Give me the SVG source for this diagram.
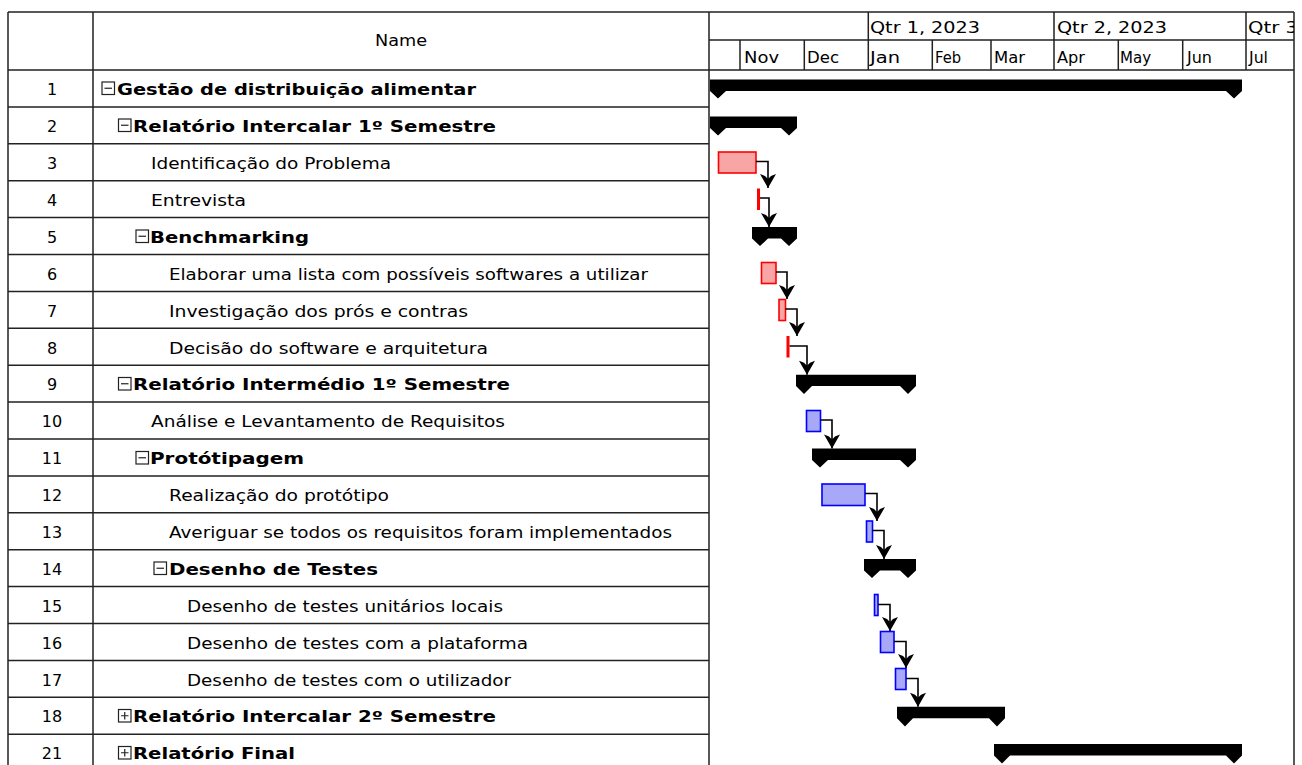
<svg xmlns="http://www.w3.org/2000/svg" width="1302" height="765" viewBox="0 0 1302 765">
<defs>
<style>
.t{font-family:"DejaVu Sans",Verdana,sans-serif;font-size:16px;fill:#000}
.b{font-weight:bold}
.n{text-anchor:middle}
.h{font-family:"DejaVu Sans",Verdana,sans-serif;font-size:16px;fill:#000}
.grid{stroke:#222;stroke-width:1.5;fill:none}
.box{fill:#fff;stroke:#222;stroke-width:1.2}
.sum{fill:#000}
.red{fill:#f7a5a5;stroke:#ff0000;stroke-width:1.6}
.blue{fill:#a8a8f8;stroke:#0000ff;stroke-width:1.6}
.con{stroke:#000;stroke-width:1.6;fill:none;marker-end:url(#ah)}
</style>
<marker id="ah" markerUnits="userSpaceOnUse" markerWidth="20" markerHeight="20" refX="0" refY="0" viewBox="-16 -10 18 20" orient="auto" overflow="visible">
<path d="M0,0 L-14,-8 L-12,-3 L-9,0 L-12,3 L-14,8 Z" fill="#000"/>
</marker>
<clipPath id="hc"><rect x="709" y="12" width="585" height="58"/></clipPath>
</defs>
<rect x="0" y="0" width="1302" height="765" fill="#fff"/>

<g id="grid">
<path class="grid" d="M8,12 H1294 M8,12 V765 M93,12 V765 M709,12 V765 M1294,12 V765 M8,70 H1294 M709,40 H1294"/>
<path class="grid" d="M8,106.9 H709 M8,143.8 H709 M8,180.7 H709 M8,217.6 H709 M8,254.5 H709 M8,291.4 H709 M8,328.3 H709 M8,365.2 H709 M8,402.1 H709 M8,439 H709 M8,475.9 H709 M8,512.8 H709 M8,549.7 H709 M8,586.6 H709 M8,623.5 H709 M8,660.4 H709 M8,697.3 H709 M8,734.2 H709"/>
<path class="grid" d="M868.3,12 V70 M1054,12 V70 M1246,12 V70 M740,40 V70 M804.3,40 V70 M932.3,40 V70 M991,40 V70 M1118.3,40 V70 M1182.7,40 V70"/>
</g>

<g id="header">
<text class="t n" x="401" y="46" textLength="52" lengthAdjust="spacingAndGlyphs">Name</text>
<g clip-path="url(#hc)">
<text class="h" x="870" y="33" textLength="110" lengthAdjust="spacingAndGlyphs">Qtr 1, 2023</text>
<text class="h" x="1057" y="33" textLength="110" lengthAdjust="spacingAndGlyphs">Qtr 2, 2023</text>
<text class="h" x="1248" y="33" textLength="50" lengthAdjust="spacingAndGlyphs">Qtr 3</text>
<text class="h" x="744" y="63" textLength="35" lengthAdjust="spacingAndGlyphs">Nov</text>
<text class="h" x="807" y="63" textLength="32" lengthAdjust="spacingAndGlyphs">Dec</text>
<text class="h" x="870" y="63" textLength="30" lengthAdjust="spacingAndGlyphs">Jan</text>
<text class="h" x="935" y="63" textLength="26" lengthAdjust="spacingAndGlyphs">Feb</text>
<text class="h" x="994" y="63" textLength="31" lengthAdjust="spacingAndGlyphs">Mar</text>
<text class="h" x="1057" y="63" textLength="28" lengthAdjust="spacingAndGlyphs">Apr</text>
<text class="h" x="1120" y="63" textLength="31" lengthAdjust="spacingAndGlyphs">May</text>
<text class="h" x="1187" y="63" textLength="25" lengthAdjust="spacingAndGlyphs">Jun</text>
<text class="h" x="1249" y="63" textLength="19" lengthAdjust="spacingAndGlyphs">Jul</text>
</g>
</g>

<g id="row1"><text class="t n" x="52" y="94.5">1</text><rect class="box" x="102" y="82" width="12.5" height="12.5"/><path d="M104.5,88.25 H112" stroke="#222" stroke-width="1.2"/><text class="t b" x="117" y="94.5" textLength="359" lengthAdjust="spacingAndGlyphs">Gestão de distribuição alimentar</text>
<path class="sum" d="M710,79.5 H1242 V91 L1234,98.5 L1226,91 H726 L718,98.5 L710,91 Z"/></g>

<g id="row2"><text class="t n" x="52" y="131.5">2</text><rect class="box" x="118.5" y="119" width="12.5" height="12.5"/><path d="M121,125.25 H128.5" stroke="#222" stroke-width="1.2"/><text class="t b" x="133" y="131.5" textLength="363" lengthAdjust="spacingAndGlyphs">Relatório Intercalar 1º Semestre</text>
<path class="sum" d="M710,116.4 H797 V128 L789,135.4 L781,128 H726 L718,135.4 L710,128 Z"/></g>

<g id="row3"><text class="t n" x="52" y="168.5">3</text><text class="t" x="151" y="168.5" textLength="240" lengthAdjust="spacingAndGlyphs">Identificação do Problema</text>
<rect class="red" x="718.5" y="152" width="37.5" height="21"/></g>

<g id="row4"><text class="t n" x="52" y="205.5">4</text><text class="t" x="151" y="205.5" textLength="95" lengthAdjust="spacingAndGlyphs">Entrevista</text>
<rect x="757" y="188.5" width="3" height="21.5" fill="#ff0000"/></g>

<g id="row5"><text class="t n" x="52" y="242.5">5</text><rect class="box" x="136" y="230" width="12.5" height="12.5"/><path d="M138.5,236.25 H146" stroke="#222" stroke-width="1.2"/><text class="t b" x="150" y="242.5" textLength="159" lengthAdjust="spacingAndGlyphs">Benchmarking</text>
<path class="sum" d="M752,227 H797 V238.5 L789,246 L781,238.5 H768 L760,246 L752,238.5 Z"/></g>

<g id="row6"><text class="t n" x="52" y="279.5">6</text><text class="t" x="169" y="279.5" textLength="479" lengthAdjust="spacingAndGlyphs">Elaborar uma lista com possíveis softwares a utilizar</text>
<rect class="red" x="761.5" y="262.5" width="14.5" height="21"/></g>

<g id="row7"><text class="t n" x="52" y="316.5">7</text><text class="t" x="169" y="316.5" textLength="299" lengthAdjust="spacingAndGlyphs">Investigação dos prós e contras</text>
<rect class="red" x="779" y="299.5" width="6.5" height="21"/></g>

<g id="row8"><text class="t n" x="52" y="353.5">8</text><text class="t" x="169" y="353.5" textLength="319" lengthAdjust="spacingAndGlyphs">Decisão do software e arquitetura</text>
<rect x="786.5" y="336" width="3" height="21.5" fill="#ff0000"/></g>

<g id="row9"><text class="t n" x="52" y="390">9</text><rect class="box" x="118.5" y="377.5" width="12.5" height="12.5"/><path d="M121,383.75 H128.5" stroke="#222" stroke-width="1.2"/><text class="t b" x="133" y="390" textLength="377" lengthAdjust="spacingAndGlyphs">Relatório Intermédio 1º Semestre</text>
<path class="sum" d="M796,374.7 H916 V386 L908,394 L900,386 H812 L804,394 L796,386 Z"/></g>

<g id="row10"><text class="t n" x="52" y="427">10</text><text class="t" x="151" y="427" textLength="354" lengthAdjust="spacingAndGlyphs">Análise e Levantamento de Requisitos</text>
<rect class="blue" x="806.5" y="410.5" width="14" height="21"/></g>

<g id="row11"><text class="t n" x="52" y="464">11</text><rect class="box" x="136" y="451.5" width="12.5" height="12.5"/><path d="M138.5,457.75 H146" stroke="#222" stroke-width="1.2"/><text class="t b" x="150" y="464" textLength="154" lengthAdjust="spacingAndGlyphs">Protótipagem</text>
<path class="sum" d="M812,448.5 H916 V460 L908,467.5 L900,460 H828 L820,467.5 L812,460 Z"/></g>

<g id="row12"><text class="t n" x="52" y="501">12</text><text class="t" x="169" y="501" textLength="220" lengthAdjust="spacingAndGlyphs">Realização do protótipo</text>
<rect class="blue" x="822" y="484" width="43" height="21.5"/></g>

<g id="row13"><text class="t n" x="52" y="538">13</text><text class="t" x="169" y="538" textLength="503" lengthAdjust="spacingAndGlyphs">Averiguar se todos os requisitos foram implementados</text>
<rect class="blue" x="866.5" y="521" width="6" height="21"/></g>

<g id="row14"><text class="t n" x="52" y="574.5">14</text><rect class="box" x="154" y="562" width="12.5" height="12.5"/><path d="M156.5,568.25 H164" stroke="#222" stroke-width="1.2"/><text class="t b" x="169" y="574.5" textLength="209" lengthAdjust="spacingAndGlyphs">Desenho de Testes</text>
<path class="sum" d="M864,559 H916 V570.5 L908,578 L900,570.5 H880 L872,578 L864,570.5 Z"/></g>

<g id="row15"><text class="t n" x="52" y="611.5">15</text><text class="t" x="187" y="611.5" textLength="316" lengthAdjust="spacingAndGlyphs">Desenho de testes unitários locais</text>
<rect class="blue" x="874.5" y="594.5" width="3.5" height="21"/></g>

<g id="row16"><text class="t n" x="52" y="648.5">16</text><text class="t" x="187" y="648.5" textLength="341" lengthAdjust="spacingAndGlyphs">Desenho de testes com a plataforma</text>
<rect class="blue" x="880.5" y="631.5" width="13.5" height="21"/></g>

<g id="row17"><text class="t n" x="52" y="685.5">17</text><text class="t" x="187" y="685.5" textLength="324" lengthAdjust="spacingAndGlyphs">Desenho de testes com o utilizador</text>
<rect class="blue" x="895.5" y="668.5" width="10.5" height="21"/></g>

<g id="row18"><text class="t n" x="52" y="722">18</text><rect class="box" x="118.5" y="709.5" width="12.5" height="12.5"/><path d="M121,715.75 H128.5 M124.75,712 V719.5" stroke="#222" stroke-width="1.2"/><text class="t b" x="133" y="722" textLength="363" lengthAdjust="spacingAndGlyphs">Relatório Intercalar 2º Semestre</text>
<path class="sum" d="M897,706.7 H1005 V718.3 L997,726.5 L989,718.3 H913 L905,726.5 L897,718.3 Z"/></g>

<g id="row21"><text class="t n" x="52" y="759">21</text><rect class="box" x="118.5" y="746.5" width="12.5" height="12.5"/><path d="M121,752.75 H128.5 M124.75,749 V756.5" stroke="#222" stroke-width="1.2"/><text class="t b" x="133" y="759" textLength="162" lengthAdjust="spacingAndGlyphs">Relatório Final</text>
<path class="sum" d="M994,744 H1242 V755.5 L1234,763.5 L1226,755.5 H1010 L1002,763.5 L994,755.5 Z"/></g>

<g id="connectors">
<path class="con" d="M756,161.5 H768 V188"/>
<path class="con" d="M760,198 H769 V227"/>
<path class="con" d="M776,272 H787 V299"/>
<path class="con" d="M785.5,309 H797 V336"/>
<path class="con" d="M789.5,346 H807 V374.7"/>
<path class="con" d="M820.5,420 H832 V448.5"/>
<path class="con" d="M865,493.5 H877 V521"/>
<path class="con" d="M872.5,530.5 H884 V559"/>
<path class="con" d="M878,604.5 H890 V631"/>
<path class="con" d="M894,641.5 H906 V668"/>
<path class="con" d="M906,678.5 H918 V706.7"/>
</g>
</svg>
